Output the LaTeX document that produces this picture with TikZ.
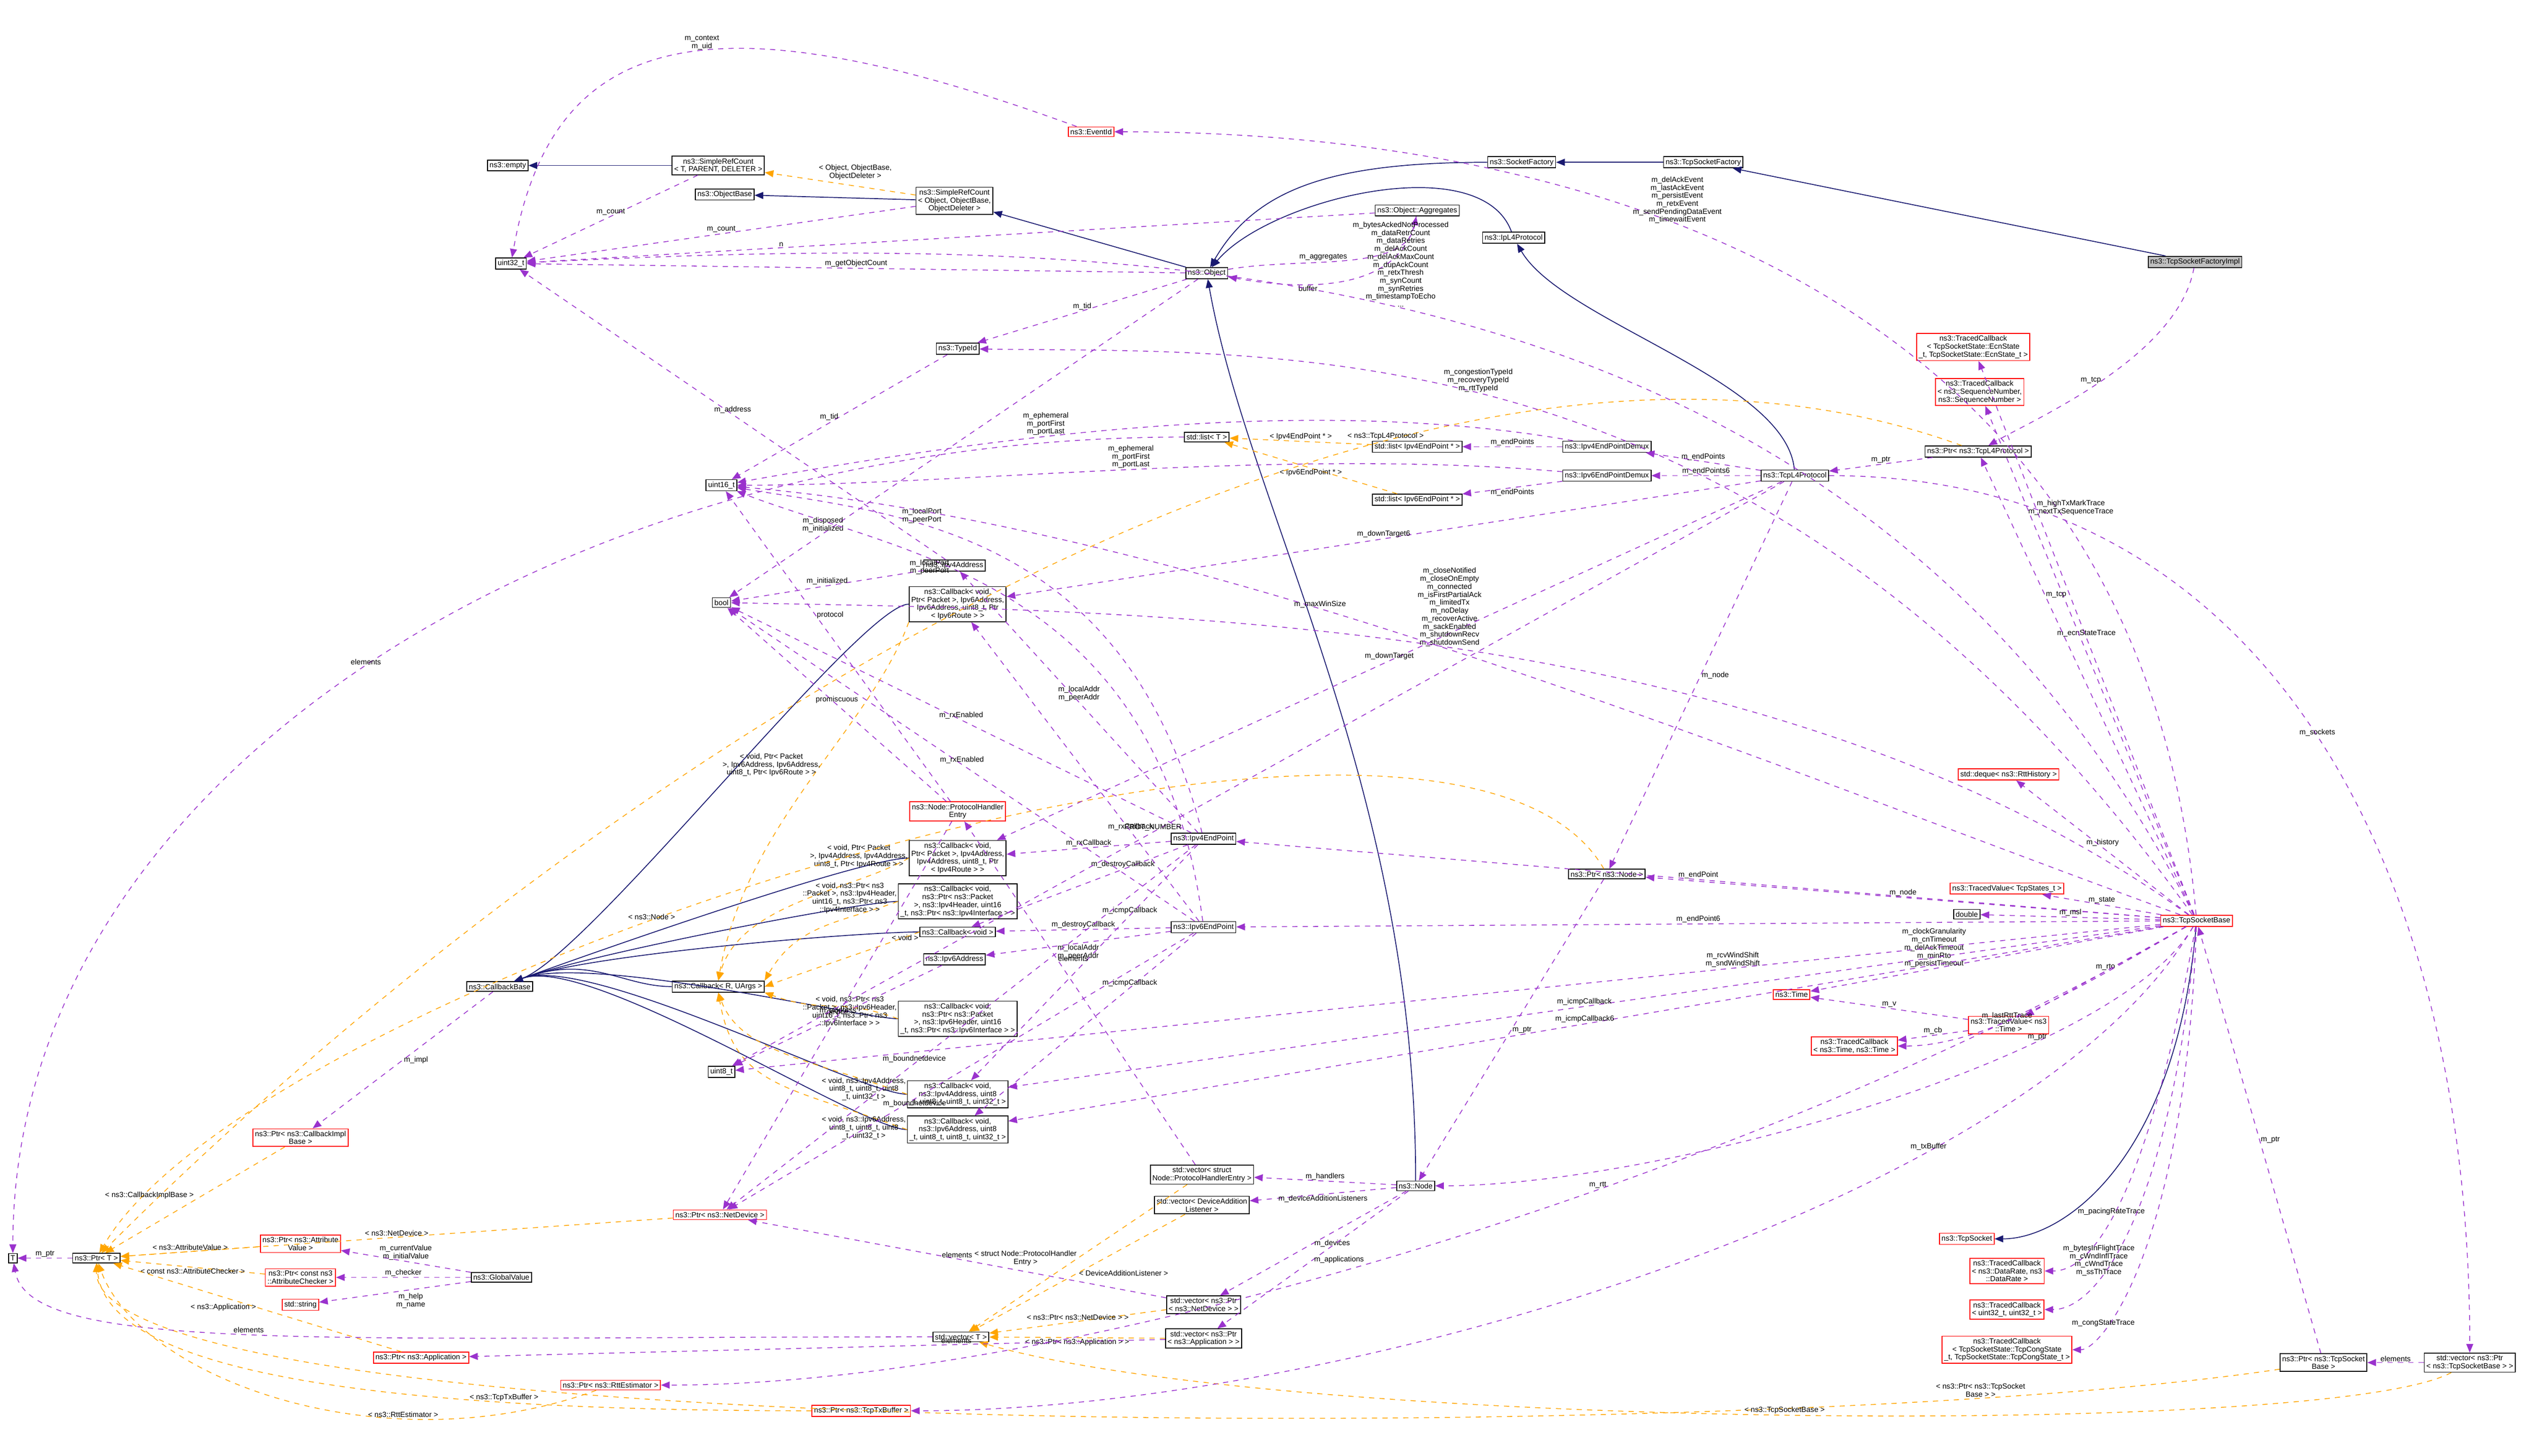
\documentclass[tikz,border=0pt]{standalone}
\usepackage{fontspec}
\setmainfont{Liberation Sans}
\usepackage{tikz}
\usetikzlibrary{arrows.meta}
\definecolor{dxNavy}{RGB}{25, 25, 112}
\definecolor{dxPurple}{RGB}{154, 50, 205}
\definecolor{dxOrange}{RGB}{255, 165, 0}
\definecolor{dxGray}{RGB}{191, 191, 191}
\tikzset{
    base/.style={
        font=\fontsize{4.3}{4.6}\selectfont,
        align=center
    },
    cls/.style={
        base,
        rectangle,
        draw=black,
        fill=white,
        inner sep=1.2pt,
        line width=0.5pt
    },
    redcls/.style={
        cls,
        draw=red
    },
    maincls/.style={
        cls,
        fill=dxGray
    },
    inh/.style={
        -{Triangle[length=5pt,width=4pt]},
        color=dxNavy,
        line width=0.5pt
    },
    use/.style={
        -{Triangle[length=5pt,width=4pt]},
        dashed,
        color=dxPurple,
        line width=0.45pt
    },
    tpl/.style={
        -{Triangle[length=5pt,width=4pt]},
        dashed,
        color=dxOrange,
        line width=0.45pt
    },
    lbl/.style={
        base,
        text=black,
        inner sep=0.5pt
    }
}

\begin{document}
\begin{tikzpicture}[x=0.0326cm, y=0.0326cm]
    \useasboundingbox (0,0) rectangle (1577,-906);

    % top row
    \node[redcls] (evid) at (679,-82) {ns3::EventId};
    \node[cls] (empty) at (316,-103) {ns3::empty};
    \node[cls] (src1) at (447,-103) {ns3::SimpleRefCount\\< T, PARENT, DELETER >};
    \node[cls] (objbase) at (451,-121) {ns3::ObjectBase};
    \node[cls] (src2) at (594,-125) {ns3::SimpleRefCount\\< Object, ObjectBase,\\ObjectDeleter >};
    \node[cls] (sockfac) at (947,-101) {ns3::SocketFactory};
    \node[cls] (tcpfac) at (1060,-101) {ns3::TcpSocketFactory};
    \node[maincls] (impl) at (1366,-163) {ns3::TcpSocketFactoryImpl};
    \node[cls] (aggr) at (882,-131) {ns3::Object::Aggregates};
    \node[cls] (ipl4) at (942,-148) {ns3::IpL4Protocol};
    \node[cls] (uint32) at (318,-164) {uint32\_t};
    \node[cls] (object) at (751,-170) {ns3::Object};
    \node[redcls] (tcbEcn) at (1228,-216) {ns3::TracedCallback\\< TcpSocketState::EcnState\\\_t, TcpSocketState::EcnState\_t >};
    \node[cls] (typeid) at (596,-217) {ns3::TypeId};
    \node[redcls] (tcbSeq) at (1232,-244) {ns3::TracedCallback\\< ns3::SequenceNumber,\\ns3::SequenceNumber >};

    % demux and lists
    \node[cls] (listT) at (751,-272) {std::list< T >};
    \node[cls] (list4) at (882,-278) {std::list< Ipv4EndPoint * >};
    \node[cls] (list6) at (882,-311) {std::list< Ipv6EndPoint * >};
    \node[cls] (demux4) at (1000,-278) {ns3::Ipv4EndPointDemux};
    \node[cls] (demux6) at (1000,-296) {ns3::Ipv6EndPointDemux};
    \node[cls] (tcpl4) at (1117,-296) {ns3::TcpL4Protocol};
    \node[cls] (ptrL4) at (1231,-281) {ns3::Ptr< ns3::TcpL4Protocol >};
    \node[cls] (uint16) at (449,-302) {uint16\_t};

    % callbacks
    \node[cls] (ipv4addr) at (594,-352) {ns3::Ipv4Address};
    \node[cls] (bool) at (449,-375) {bool};
    \node[cls] (cbIpv6) at (596,-376) {ns3::Callback< void,\\Ptr< Packet >, Ipv6Address,\\Ipv6Address, uint8\_t, Ptr\\< Ipv6Route > >};
    \node[redcls] (phe) at (596,-505) {ns3::Node::ProtocolHandler\\Entry};
    \node[cls] (cbIpv4) at (596,-534) {ns3::Callback< void,\\Ptr< Packet >, Ipv4Address,\\Ipv4Address, uint8\_t, Ptr\\< Ipv4Route > >};
    \node[cls] (cbIp4H) at (596,-561) {ns3::Callback< void,\\ns3::Ptr< ns3::Packet\\>, ns3::Ipv4Header, uint16\\\_t, ns3::Ptr< ns3::Ipv4Interface > >};
    \node[cls] (cbVoid) at (596,-580) {ns3::Callback< void >};
    \node[cls] (ipv6addr) at (594,-597) {ns3::Ipv6Address};
    \node[cls] (cbIp6H) at (596,-634) {ns3::Callback< void,\\ns3::Ptr< ns3::Packet\\>, ns3::Ipv6Header, uint16\\\_t, ns3::Ptr< ns3::Ipv6Interface > >};
    \node[cls] (cbI4) at (596,-681) {ns3::Callback< void,\\ns3::Ipv4Address, uint8\\\_t, uint8\_t, uint8\_t, uint32\_t >};
    \node[cls] (cbI6) at (596,-703) {ns3::Callback< void,\\ns3::Ipv6Address, uint8\\\_t, uint8\_t, uint8\_t, uint32\_t >};
    \node[cls] (cbBase) at (311,-614) {ns3::CallbackBase};
    \node[cls] (cbR) at (447,-614) {ns3::Callback< R, UArgs >};
    \node[cls] (uint8) at (449,-667) {uint8\_t};
    \node[cls] (ep4) at (749,-522) {ns3::Ipv4EndPoint};
    \node[cls] (ep6) at (749,-577) {ns3::Ipv6EndPoint};
    \node[cls] (ptrNode) at (1000,-544) {ns3::Ptr< ns3::Node >};

    % socket base members
    \node[redcls] (deque) at (1250,-482) {std::deque< ns3::RttHistory >};
    \node[redcls] (tvStates) at (1249,-553) {ns3::TracedValue< TcpStates\_t >};
    \node[cls] (double) at (1224,-569) {double};
    \node[redcls] (tsb) at (1367,-573) {ns3::TcpSocketBase};
    \node[redcls] (time) at (1115,-619) {ns3::Time};
    \node[redcls] (tvTime) at (1250,-638) {ns3::TracedValue< ns3\\::Time >};
    \node[redcls] (tcbTime) at (1154,-651) {ns3::TracedCallback\\< ns3::Time, ns3::Time >};
    \node[redcls] (tcpSocket) at (1224,-771) {ns3::TcpSocket};
    \node[redcls] (tcbRate) at (1249,-791) {ns3::TracedCallback\\< ns3::DataRate, ns3\\::DataRate >};
    \node[redcls] (tcbU32) at (1249,-815) {ns3::TracedCallback\\< uint32\_t, uint32\_t >};
    \node[redcls] (tcbCong) at (1249,-840) {ns3::TracedCallback\\< TcpSocketState::TcpCongState\\\_t, TcpSocketState::TcpCongState\_t >};
    \node[cls] (ptrTsb) at (1446,-848) {ns3::Ptr< ns3::TcpSocket\\Base >};
    \node[cls] (vecTsb) at (1537,-848) {std::vector< ns3::Ptr\\< ns3::TcpSocketBase > >};

    % node and vectors
    \node[cls] (vecPhe) at (748,-731) {std::vector< struct\\Node::ProtocolHandlerEntry >};
    \node[cls] (vecDal) at (748,-750) {std::vector< DeviceAddition\\Listener >};
    \node[cls] (node) at (881,-738) {ns3::Node};
    \node[cls] (vecNd) at (749,-812) {std::vector< ns3::Ptr\\< ns3::NetDevice > >};
    \node[cls] (vecApp) at (749,-833) {std::vector< ns3::Ptr\\< ns3::Application > >};
    \node[cls] (vecT) at (598,-832) {std::vector< T >};

    % left side pointers
    \node[cls] (T) at (8,-783) {T};
    \node[cls] (ptrT) at (60,-783) {ns3::Ptr< T >};
    \node[redcls] (ptrCbImpl) at (187,-708) {ns3::Ptr< ns3::CallbackImpl\\Base >};
    \node[redcls] (ptrNetDev) at (448,-756) {ns3::Ptr< ns3::NetDevice >};
    \node[redcls] (ptrAttrVal) at (187,-774) {ns3::Ptr< ns3::Attribute\\Value >};
    \node[redcls] (ptrAttrChk) at (187,-795) {ns3::Ptr< const ns3\\::AttributeChecker >};
    \node[cls] (gv) at (312,-795) {ns3::GlobalValue};
    \node[redcls] (string) at (187,-812) {std::string};
    \node[redcls] (ptrApp) at (262,-845) {ns3::Ptr< ns3::Application >};
    \node[redcls] (ptrRtt) at (380,-862) {ns3::Ptr< ns3::RttEstimator >};
    \node[redcls] (ptrTx) at (536,-878) {ns3::Ptr< ns3::TcpTxBuffer >};

    % inheritance
    \draw[inh] (src1) -- (empty);
    \draw[inh] (src2) -- (objbase);
    \draw[inh] (object) -- (src2);
    \draw[inh] (sockfac) .. controls +(180:120) and +(60:60) .. (object);
    \draw[inh] (ipl4) .. controls +(110:60) and +(50:60) .. (object);
    \draw[inh] (node) .. controls +(90:250) and +(-80:150) .. (object);
    \draw[inh] (tcpfac) -- (sockfac);
    \draw[inh] (impl) -- (tcpfac);
    \draw[inh] (tcpl4) .. controls +(95:60) and +(-60:60) .. (ipl4);
    \draw[inh] (tsb) .. controls +(-95:150) and +(0:60) .. (tcpSocket);
    \foreach \cb in {cbIpv6, cbIpv4, cbIp4H, cbVoid, cbR, cbIp6H, cbI4, cbI6}
        \draw[inh] (\cb) .. controls +(180:60) and +(20:60) .. (cbBase);

    % templates
    \draw[tpl] (src2) -- node[lbl, above, pos=0.4, yshift=3pt] {< Object, ObjectBase,\\ObjectDeleter >} (src1);
    \draw[tpl] (cbIpv6.south west) .. controls +(-110:70) and +(80:100) .. node[lbl, pos=0.45, anchor=east] {< void, Ptr< Packet\\>, Ipv6Address, Ipv6Address,\\uint8\_t, Ptr< Ipv6Route > >} (cbR.north);
    \draw[tpl] (cbIpv4.west) .. controls +(-150:40) and +(75:50) .. node[lbl, at start, anchor=east, yshift=1pt] {< void, Ptr< Packet\\>, Ipv4Address, Ipv4Address,\\uint8\_t, Ptr< Ipv4Route > >} (cbR.north);
    \draw[tpl] (cbIp4H.west) .. controls +(-160:40) and +(60:40) .. node[lbl, at start, anchor=east, yshift=2pt] {< void, ns3::Ptr< ns3\\::Packet >, ns3::Ipv4Header,\\uint16\_t, ns3::Ptr< ns3\\::Ipv4Interface > >} (cbR.north east);
    \draw[tpl] (cbVoid.west) .. controls +(-160:30) and +(20:30) .. node[lbl, at start, anchor=north east, yshift=-1pt] {< void >} (cbR.east);
    \draw[tpl] (cbIp6H.west) .. controls +(160:40) and +(-20:40) .. node[lbl, at start, anchor=east, yshift=4pt] {< void, ns3::Ptr< ns3\\::Packet >, ns3::Ipv6Header,\\uint16\_t, ns3::Ptr< ns3\\::Ipv6Interface > >} (cbR.south east);
    \draw[tpl] (cbI4.west) .. controls +(160:60) and +(-70:40) .. node[lbl, at start, anchor=east, yshift=3pt] {< void, ns3::Ipv4Address,\\uint8\_t, uint8\_t, uint8\\\_t, uint32\_t >} (cbR.south);
    \draw[tpl] (cbI6.west) .. controls +(160:80) and +(-80:60) .. node[lbl, at start, anchor=east, yshift=1pt] {< void, ns3::Ipv6Address,\\uint8\_t, uint8\_t, uint8\\\_t, uint32\_t >} (cbR.south);
    \draw[tpl] (list4) -- node[lbl, above] {< Ipv4EndPoint * >} (listT);
    \draw[tpl] (list6) -- node[lbl, below] {< Ipv6EndPoint * >} (listT);
    \draw[tpl] (ptrL4) .. controls +(160:400) and +(45:400) .. node[lbl, pos=0.3, above] {< ns3::TcpL4Protocol >} (ptrT);
    \draw[tpl] (ptrNode) .. controls +(120:200) and +(60:200) .. node[lbl, pos=0.6, above] {< ns3::Node >} (ptrT);
    \draw[tpl] (ptrCbImpl) -- node[lbl, above left] {< ns3::CallbackImplBase >} (ptrT);
    \draw[tpl] (ptrNetDev) -- node[lbl, above] {< ns3::NetDevice >} (ptrT);
    \draw[tpl] (ptrAttrVal) -- node[lbl, above] {< ns3::AttributeValue >} (ptrT);
    \draw[tpl] (ptrAttrChk) -- node[lbl, below] {< const ns3::AttributeChecker >} (ptrT);
    \draw[tpl] (ptrApp) -- node[lbl, left] {< ns3::Application >} (ptrT);
    \draw[tpl] (ptrRtt) .. controls +(200:150) and +(-70:80) .. node[lbl, pos=0.3, above] {< ns3::RttEstimator >} (ptrT);
    \draw[tpl] (ptrTx) .. controls +(180:250) and +(-85:80) .. node[lbl, pos=0.3, above] {< ns3::TcpTxBuffer >} (ptrT);
    \draw[tpl] (ptrTsb) .. controls (1100,-900) and (60,-900) .. node[lbl, pos=0.15, above] {< ns3::Ptr< ns3::TcpSocket\\Base > >} (ptrT);
    \draw[tpl] (vecPhe) -- node[lbl, left] {< struct Node::ProtocolHandler\\Entry >} (vecT);
    \draw[tpl] (vecDal) -- node[lbl, right] {< DeviceAdditionListener >} (vecT);
    \draw[tpl] (vecNd) -- node[lbl, above] {< ns3::Ptr< ns3::NetDevice > >} (vecT);
    \draw[tpl] (vecApp) -- node[lbl, below] {< ns3::Ptr< ns3::Application > >} (vecT);
    \draw[tpl] (vecTsb) .. controls (1450,-895) and (800,-890) .. node[lbl, pos=0.5, above] {< ns3::TcpSocketBase >} (vecT);

    % members of the base classes
    \draw[use] (evid) .. controls +(160:250) and +(80:150) .. node[lbl, pos=0.45, above] {m\_context\\m\_uid} (uint32);
    \draw[use] (src1) -- node[lbl, above] {m\_count} (uint32);
    \draw[use] (src2) -- node[lbl, above] {m\_count} (uint32);
    \draw[use] (aggr) -- node[lbl, above, pos=0.7] {n} (uint32);
    \draw[use] (object) -- node[lbl, above] {m\_getObjectCount} (uint32);
    \draw[use] (object) .. controls +(10:60) and +(-100:40) .. node[lbl, pos=0.4, above] {m\_aggregates} (aggr);
    \draw[use] (aggr) .. controls +(-100:60) and +(-10:40) .. node[lbl, pos=0.6, below] {buffer} (object);
    \draw[use] (object) -- node[lbl, above] {m\_tid} (typeid);
    \draw[use] (typeid) -- node[lbl, left] {m\_tid} (uint16);
    \draw[use] (listT) .. controls +(180:400) and +(90:300) .. node[lbl, pos=0.5, above] {elements} (T);
    \draw[use] (vecT) .. controls +(180:400) and +(-80:60) .. node[lbl, pos=0.5, above] {elements} (T);
    \draw[use] (ptrT) -- node[lbl, above] {m\_ptr} (T);
    \draw[use] (cbBase) -- node[lbl, right] {m\_impl} (ptrCbImpl);
    \draw[use] (gv) -- node[lbl, above] {m\_currentValue\\m\_initialValue} (ptrAttrVal);
    \draw[use] (gv) -- node[lbl, above] {m\_checker} (ptrAttrChk);
    \draw[use] (gv) -- node[lbl, below right] {m\_help\\m\_name} (string);

    % end points
    \draw[use] (demux4) -- node[lbl, above] {m\_endPoints} (list4);
    \draw[use] (demux6) -- node[lbl, below] {m\_endPoints} (list6);
    \draw[use] (demux4) .. controls +(170:200) and +(10:150) .. node[lbl, pos=0.6, above] {m\_ephemeral\\m\_portFirst\\m\_portLast} (uint16);
    \draw[use] (demux6) .. controls +(175:200) and +(0:150) .. node[lbl, pos=0.5, above] {m\_ephemeral\\m\_portFirst\\m\_portLast} (uint16);
    \draw[use] (ipv4addr) -- node[lbl, above] {m\_address} (uint32);
    \draw[use] (ipv4addr) -- node[lbl, above] {m\_initialized} (bool);
    \draw[use] (ipv6addr) -- node[lbl, above] {m\_address} (uint8);
    \draw[use] (object) -- node[lbl, pos=0.8, above] {m\_disposed\\m\_initialized} (bool);
    \draw[use] (phe) -- node[lbl, above] {promiscuous} (bool);
    \draw[use] (phe) -- node[lbl, pos=0.6, right] {protocol} (uint16);
    \draw[use] (phe) -- node[lbl, above] {device} (ptrNetDev);
    \draw[use] (ep4) .. controls (700,-330) and (560,-320) .. node[lbl, pos=0.65, above] {m\_localPort\\m\_peerPort} (uint16);
    \draw[use] (ep6) .. controls (720,-360) and (560,-345) .. node[lbl, pos=0.65, below] {m\_localPort\\m\_peerPort} (uint16);
    \draw[use] (ep4) -- node[lbl, above] {m\_localAddr\\m\_peerAddr} (ipv4addr);
    \draw[use] (ep6) -- node[lbl, below] {m\_localAddr\\m\_peerAddr} (ipv6addr);
    \draw[use] (ep4) -- node[lbl, above] {m\_rxCallback} (cbIpv4);
    \draw[use] (ep6) -- node[lbl, above, pos=0.3] {m\_rxCallback} (cbIpv6);
    \draw[use] (ep4) -- node[lbl, above, pos=0.3] {m\_destroyCallback} (cbVoid);
    \draw[use] (ep6) -- node[lbl, above] {m\_destroyCallback} (cbVoid);
    \draw[use] (ep4) -- node[lbl, above, pos=0.3] {m\_icmpCallback} (cbI4);
    \draw[use] (ep6) -- node[lbl, above, pos=0.3] {m\_icmpCallback} (cbI6);
    \draw[use] (ep4) -- node[lbl, above, pos=0.5] {m\_rxEnabled} (bool);
    \draw[use] (ep6) -- node[lbl, above, pos=0.5] {m\_rxEnabled} (bool);
    \draw[use] (ep4) -- node[lbl, above, pos=0.6] {m\_boundnetdevice} (ptrNetDev);
    \draw[use] (ep6) -- node[lbl, below, pos=0.6] {m\_boundnetdevice} (ptrNetDev);

    % tcp l4 protocol
    \draw[use] (tcpl4) -- node[lbl, above] {m\_endPoints} (demux4);
    \draw[use] (tcpl4) -- node[lbl, above] {m\_endPoints6} (demux6);
    \draw[use] (ptrL4) -- node[lbl, above] {m\_ptr} (tcpl4);
    \draw[use] (impl) .. controls +(-100:60) and +(30:40) .. node[lbl, pos=0.5, left] {m\_tcp} (ptrL4);
    \draw[use] (tcpl4) -- node[lbl, pos=0.5, above] {m\_downTarget} (cbIpv4);
    \draw[use] (tcpl4) -- node[lbl, pos=0.5, above] {m\_downTarget6} (cbIpv6);
    \draw[use] (tcpl4) -- node[lbl, right] {m\_node} (ptrNode);
    \draw[use] (tcpl4) -- node[lbl, pos=0.6, above] {PROT\_NUMBER} (uint8);
    \draw[use] (tcpl4) .. controls +(0:300) and +(90:300) .. node[lbl, pos=0.5, above] {m\_sockets} (vecTsb);

    % node
    \draw[use] (ptrNode) -- node[lbl, right] {m\_ptr} (node);
    \draw[use] (node) -- node[lbl, above] {m\_handlers} (vecPhe);
    \draw[use] (node) -- node[lbl, below] {m\_deviceAdditionListeners} (vecDal);
    \draw[use] (node) -- node[lbl, right] {m\_devices} (vecNd);
    \draw[use] (node) -- node[lbl, right] {m\_applications} (vecApp);
    \draw[use] (vecPhe) -- node[lbl, pos=0.6, right] {elements} (phe);
    \draw[use] (vecNd) -- node[lbl, above] {elements} (ptrNetDev);
    \draw[use] (vecApp) -- node[lbl, above, pos=0.3] {elements} (ptrApp);

    % tcp socket base
    \draw[use] (tsb) .. controls +(95:400) and +(0:300) .. node[lbl, pos=0.6, above] {m\_delAckEvent\\m\_lastAckEvent\\m\_persistEvent\\m\_retxEvent\\m\_sendPendingDataEvent\\m\_timewaitEvent} (evid);
    \draw[use] (tsb) .. controls (1150,-145) and (700,-145) .. node[lbl, pos=0.53, above] {m\_bytesAckedNotProcessed\\m\_dataRetrCount\\m\_dataRetries\\m\_delAckCount\\m\_delAckMaxCount\\m\_dupAckCount\\m\_retxThresh\\m\_synCount\\m\_synRetries\\m\_timestampToEcho\\...} (uint32);
    \draw[use] (tsb) .. controls (1100,-200) and (800,-220) .. node[lbl, pos=0.55, above] {m\_congestionTypeId\\m\_recoveryTypeId\\m\_rttTypeId} (typeid);
    \draw[use] (tsb) -- node[lbl, above] {m\_ecnStateTrace} (tcbEcn);
    \draw[use] (tsb) -- node[lbl, right, pos=0.8] {m\_highTxMarkTrace\\m\_nextTxSequenceTrace} (tcbSeq);
    \draw[use] (tsb) -- node[lbl, right, pos=0.7] {m\_tcp} (ptrL4);
    \draw[use] (tsb) .. controls (1100,-380) and (700,-380) .. node[lbl, pos=0.5, above] {m\_closeNotified\\m\_closeOnEmpty\\m\_connected\\m\_isFirstPartialAck\\m\_limitedTx\\m\_noDelay\\m\_recoverActive\\m\_sackEnabled\\m\_shutdownRecv\\m\_shutdownSend} (bool);
    \draw[use] (tsb) .. controls +(160:300) and +(-5:300) .. node[lbl, pos=0.6, above] {m\_maxWinSize} (uint16);
    \draw[use] (tsb) -- node[lbl, pos=0.5, above] {m\_endPoint} (ep4);
    \draw[use] (tsb) -- node[lbl, pos=0.5, above] {m\_endPoint6} (ep6);
    \draw[use] (tsb) -- node[lbl, pos=0.5, above] {m\_node} (ptrNode);
    \draw[use] (tsb) -- node[lbl, above] {m\_history} (deque);
    \draw[use] (tsb) -- node[lbl, above] {m\_state} (tvStates);
    \draw[use] (tsb) -- node[lbl, above] {m\_msl} (double);
    \draw[use] (tsb) -- node[lbl, above, pos=0.65] {m\_clockGranularity\\m\_cnTimeout\\m\_delAckTimeout\\m\_minRto\\m\_persistTimeout} (time);
    \draw[use] (tvTime) -- node[lbl, above] {m\_v} (time);
    \draw[use] (tvTime) -- node[lbl, above] {m\_cb} (tcbTime);
    \draw[use] (tsb) -- node[lbl, above] {m\_rto} (tvTime);
    \draw[use] (tsb) .. controls +(-150:80) and +(0:80) .. node[lbl, pos=0.6, above] {m\_lastRttTrace} (tcbTime);
    \draw[use] (tsb) -- node[lbl, above, pos=0.5] {m\_icmpCallback} (cbI4);
    \draw[use] (tsb) -- node[lbl, above, pos=0.5] {m\_icmpCallback6} (cbI6);
    \draw[use] (tsb) -- node[lbl, above, pos=0.3] {m\_rcvWindShift\\m\_sndWindShift} (uint8);
    \draw[use] (tsb) .. controls +(-100:150) and +(0:60) .. node[lbl, pos=0.6, above] {m\_pacingRateTrace} (tcbRate);
    \draw[use] (tsb) .. controls +(-95:170) and +(0:60) .. node[lbl, pos=0.7, above] {m\_bytesInFlightTrace\\m\_cWndInflTrace\\m\_cWndTrace\\m\_ssThTrace} (tcbU32);
    \draw[use] (tsb) .. controls +(-92:200) and +(0:60) .. node[lbl, pos=0.75, above] {m\_congStateTrace} (tcbCong);
    \draw[use] (tsb) .. controls +(-150:300) and +(0:300) .. node[lbl, pos=0.4, above] {m\_rtt} (ptrRtt);
    \draw[use] (tsb) .. controls +(-120:200) and +(0:300) .. node[lbl, pos=0.3, above] {m\_txBuffer} (ptrTx);
    \draw[use] (tsb) .. controls +(-120:100) and +(0:150) .. node[lbl, pos=0.3, above] {m\_ptr} (node);
    \draw[use] (ptrTsb) -- node[lbl, right] {m\_ptr} (tsb);
    \draw[use] (vecTsb) -- node[lbl, above] {elements} (ptrTsb);
\end{tikzpicture}
\end{document}
